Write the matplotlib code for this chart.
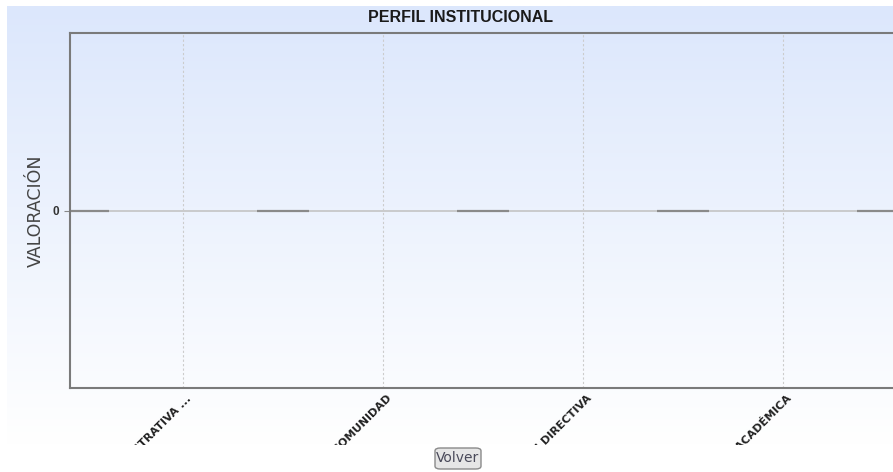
import numpy as np
import matplotlib
matplotlib.use('Agg')
import matplotlib.pyplot as plt
import matplotlib.transforms as mtransforms
from matplotlib.patches import Rectangle, FancyBboxPatch
from matplotlib.colors import LinearSegmentedColormap

plt.rcParams['font.family'] = ['Liberation Sans', 'DejaVu Sans']

# data
categories = ['GESTIÓN ADMINISTRATIVA ...', 'GESTIÓN DE LA COMUNIDAD',
              'GESTIÓN DIRECTIVA', 'GESTIÓN ACADÉMICA']
cat_pos = [1, 2, 3, 4]
bar_pos = [0.5, 1.5, 2.5, 3.5, 4.5]
bar_values = [0, 0, 0, 0, 0]

W, H = 893, 472
fig = plt.figure(figsize=(W / 100, H / 100), dpi=100)

# gradient background of the chart image
bg = fig.add_axes([7 / W, 1 - 445 / H, (W - 7) / W, (445 - 6) / H], zorder=-5)
cmap = LinearSegmentedColormap.from_list('bg', ['#dce7fc', '#ffffff'])
grad = np.linspace(0, 1, 256).reshape(-1, 1)
bg.imshow(grad, aspect='auto', cmap=cmap, extent=[0, 1, 0, 1], origin='upper')
bg.set_axis_off()

ax = fig.add_axes([70 / W, 1 - 388 / H, (W - 70) / W, (388 - 33) / H])
ax.set_facecolor('none')

ax.axhline(0, color='#c4c4c4', lw=1.2, zorder=1)
ax.bar(bar_pos, bar_values, width=0.26, color='#8a8a8a', edgecolor='#8a8a8a',
       linewidth=1.6, zorder=2)

ax.set_xlim(0.435, 4.55)
ax.set_ylim(-1, 1)
ax.set_yticks([0])
ax.set_yticklabels(['0'], fontsize=8.5, fontweight='bold', color='#333333')
ax.set_xticks(cat_pos)
ax.set_xticklabels([])
ax.tick_params(axis='x', length=0)
ax.tick_params(axis='y', length=4, color='#888888', pad=4)
ax.grid(axis='x', color='#cccccc', linestyle=(0, (2, 2)), lw=0.8)

# rotated category labels, ending just right of each grid line
offset = mtransforms.ScaledTranslation(7 / 100, -9 / 100, fig.dpi_scale_trans)
trans = mtransforms.blended_transform_factory(ax.transData, ax.transAxes) + offset
for x, lab in zip(cat_pos, categories):
    ax.text(x, 0, lab, transform=trans, rotation=45, ha='right', va='center',
            rotation_mode='anchor', fontsize=8, fontweight='bold',
            color='#222222', family='DejaVu Sans', clip_on=False)

for s in ['left', 'bottom', 'top']:
    ax.spines[s].set_color('#7a7a7a')
    ax.spines[s].set_linewidth(1.5)
ax.spines['right'].set_visible(False)

ax.set_ylabel('VALORACIÓN', fontsize=12.5, color='#444444', labelpad=5,
              family='DejaVu Sans')

fig.text(461 / W, 1 - 17 / H, 'PERFIL INSTITUCIONAL', ha='center', va='center',
         fontsize=11.5, fontweight='bold', color='#1a1a1a')

# page below the chart image hides the rest of the labels
fig.patches.append(Rectangle((0, 0), 1, 1 - 445 / H, transform=fig.transFigure,
                             facecolor='white', edgecolor='none', zorder=10))
btn = FancyBboxPatch((435 / W, 1 - 469 / H), 46 / W, 21 / H,
                     boxstyle='round,pad=0,rounding_size=0.006',
                     transform=fig.transFigure, facecolor='#e6e6e6',
                     edgecolor='#8a8a8a', lw=1, zorder=11)
fig.patches.append(btn)
fig.text(458 / W, 1 - 458.5 / H, 'Volver', ha='center', va='center',
         fontsize=10, color='#4a4a5a', zorder=12, family='DejaVu Sans')

fig.savefig('out.png', dpi=100)
